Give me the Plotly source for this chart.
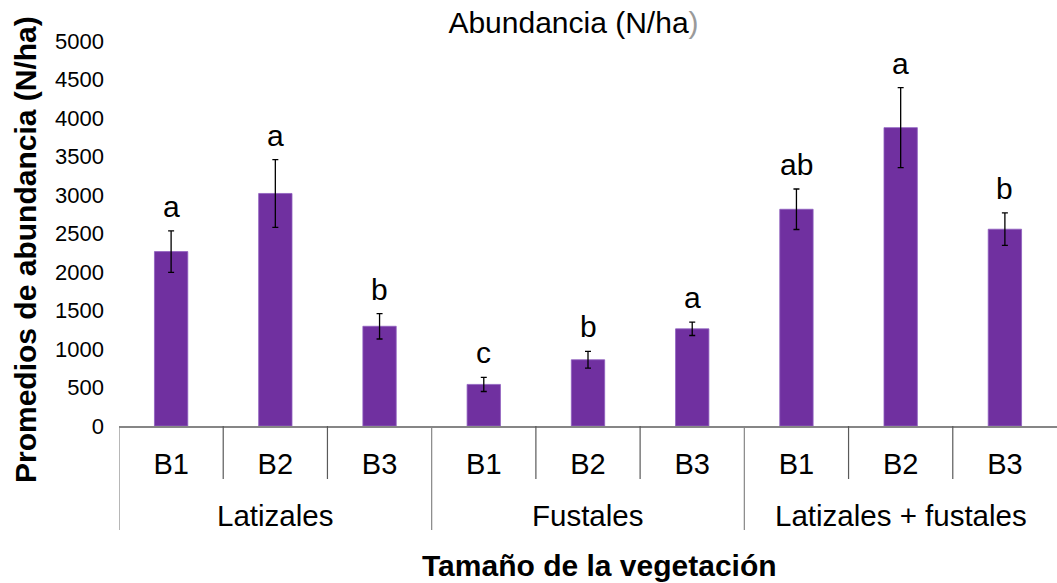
import plotly.graph_objects as go

groups = ["Latizales", "Latizales", "Latizales",
          "Fustales", "Fustales", "Fustales",
          "Latizales + fustales", "Latizales + fustales", "Latizales + fustales"]
subcats = ["B1", "B2", "B3", "B1", "B2", "B3", "B1", "B2", "B3"]
means = [2265, 3020, 1295, 540, 860, 1262, 2815, 3875, 2556]
errors = [270, 440, 165, 92, 108, 87, 263, 520, 211]
letters = ["a", "a", "b", "c", "b", "a", "ab", "a", "b"]
yticks = [0, 500, 1000, 1500, 2000, 2500, 3000, 3500, 4000, 4500, 5000]

FONT = "Liberation Sans, Arial, sans-serif"
BAR = "#7030A0"
AXIS = "#868686"

xpos = list(range(len(means)))

fig = go.Figure()
fig.add_trace(go.Bar(
    x=xpos, y=means, width=0.32,
    marker=dict(color=BAR, line=dict(color="#8f5fbf", width=0.8)),
    error_y=dict(type="data", array=errors, visible=True,
                 color="black", thickness=1.3, width=3),
    showlegend=False, hoverinfo="y",
))

annotations = []
# significance letters above error bars
for x, m, e, t in zip(xpos, means, errors, letters):
    annotations.append(dict(x=x, y=m + e, xref="x", yref="y", text=t,
                            showarrow=False, yanchor="bottom", yshift=6,
                            font=dict(family=FONT, size=30, color="black")))

# group labels and dividers
plot_h = 583 - 41 - 157
shapes = []
bounds = [0]
for i in range(1, len(groups)):
    if groups[i] != groups[i - 1]:
        bounds.append(i)
bounds.append(len(groups))
for a, b in zip(bounds[:-1], bounds[1:]):
    annotations.append(dict(x=(a + b - 1) / 2, y=-(515 - 426) / plot_h,
                            xref="x", yref="paper", text=groups[a],
                            showarrow=False, yanchor="middle",
                            font=dict(family=FONT, size=29.5, color="black")))
for i in range(len(subcats)):
    long_ = i in bounds
    depth = 104 if long_ else 53
    shapes.append(dict(type="line", xref="x", yref="paper",
                       x0=i - 0.5, x1=i - 0.5, y0=0, y1=-depth / plot_h,
                       line=dict(color=AXIS if long_ else "#5a5a5a", width=1.2)))

# axis titles
annotations.append(dict(x=(25 - 119) / 938, y=(426 - 250) / plot_h,
                        xref="paper", yref="paper",
                        text="<b>Promedios de abundancia (N/ha)</b>",
                        textangle=-90, showarrow=False,
                        xanchor="center", yanchor="middle",
                        font=dict(family=FONT, size=30, color="black")))
annotations.append(dict(x=(599 - 119) / 938, y=-(565 - 426) / plot_h,
                        xref="paper", yref="paper",
                        text="<b>Tamaño de la vegetación</b>",
                        showarrow=False, xanchor="center", yanchor="middle",
                        font=dict(family=FONT, size=30, color="black")))

fig.update_layout(
    width=1057, height=583, autosize=False,
    margin=dict(l=119, r=0, t=41, b=157),
    paper_bgcolor="white", plot_bgcolor="white",
    title=dict(text="Abundancia (N/ha<span style='color:#9a9a9a'>)</span>",
               x=573.5 / 1057, xref="container", xanchor="center",
               y=1 - 22 / 583, yref="container", yanchor="middle",
               font=dict(family=FONT, size=30, color="black")),
    xaxis=dict(range=[-0.5, len(means) - 0.5], tickvals=xpos, ticktext=subcats,
               showgrid=False, zeroline=False, ticks="",
               showline=True, linecolor=AXIS, linewidth=1.5,
               ticklabelstandoff=11,
               tickfont=dict(family=FONT, size=29, color="black")),
    yaxis=dict(range=[0, 5000], tickvals=yticks, showgrid=False,
               zeroline=False, ticks="", showline=False,
               ticklabelstandoff=14,
               tickfont=dict(family=FONT, size=22, color="black")),
    shapes=shapes,
    annotations=annotations,
    bargap=0.68,
)

fig.write_html(
    "out.html",
    config={"displayModeBar": False},
    post_script="document.body.style.margin='0';document.body.style.overflow='hidden';",
)
